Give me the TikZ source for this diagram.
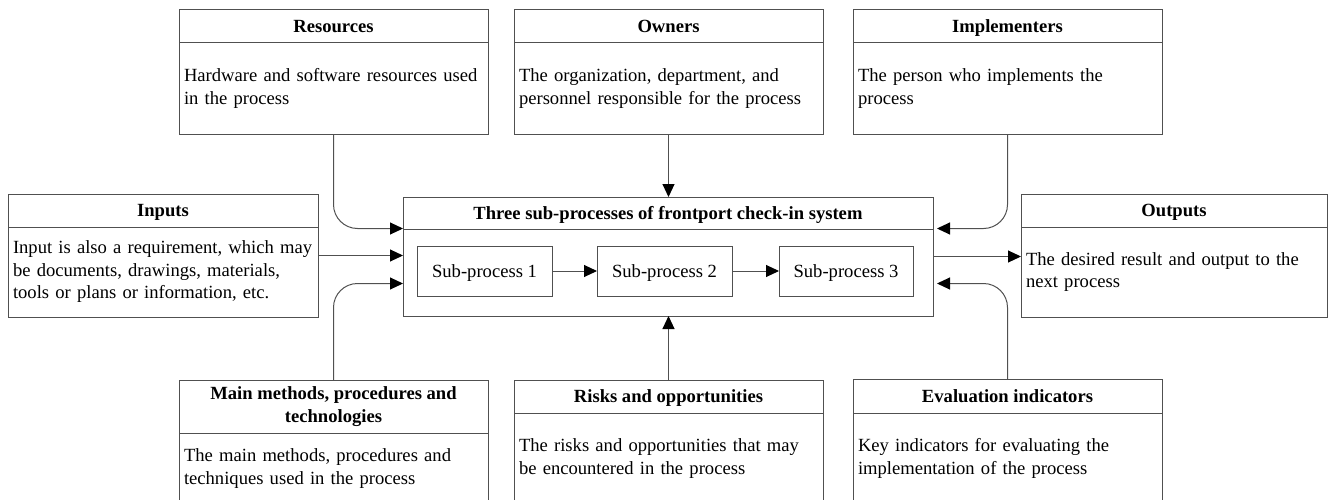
\documentclass[tikz,border=0pt]{standalone}
\usepackage{fontspec}
\setmainfont{Liberation Serif}
\usetikzlibrary{arrows.meta,calc,fit}
\definecolor{linegray}{RGB}{80,80,80}
\begin{document}
\begin{tikzpicture}[x=1pt,y=-1pt,
  txt/.style={font=\fontsize{18.6}{22.5}\selectfont},
  box/.style={txt, draw=linegray, line width=1pt, inner sep=0pt, outer sep=0pt},
  headbox/.style={box, font=\fontsize{18.6}{22.5}\selectfont\bfseries, align=center},
  oneline/.style={text height=12.5pt, text depth=0pt},
  bodybox/.style={box, align=left, inner xsep=5pt, anchor=north},
  wrap/.style={inner sep=0pt, outer sep=0pt},
  arr/.style={draw=linegray, line width=1pt, -{Triangle[length=13pt,width=12pt,color=black]}},
  roundbend/.style={rounded corners=24pt}]
\useasboundingbox (0,0) rectangle (1329,500);

% ---- top row ----
\node[headbox, oneline, minimum width=309pt, minimum height=33pt] (resh) at (333.5,26.5) {Resources};
\node[bodybox, text width=299pt, minimum height=91pt] (resb) at (resh.south)
  {Hardware and software resources used\\in the process};

\node[headbox, oneline, minimum width=309pt, minimum height=33pt] (ownh) at (668.5,26.5) {Owners};
\node[bodybox, text width=299pt, minimum height=91pt] (ownb) at (ownh.south)
  {The organization, department, and\\personnel responsible for the process};

\node[headbox, oneline, minimum width=309pt, minimum height=33pt] (imph) at (1007.5,26.5) {Implementers};
\node[bodybox, text width=299pt, minimum height=91pt] (impb) at (imph.south)
  {The person who implements the\\process};

% ---- middle row ----
\node[headbox, oneline, minimum width=310pt, minimum height=33pt] (inh) at (163,210.5) {Inputs};
\node[bodybox, text width=300pt, minimum height=90pt] (inb) at (inh.south)
  {Input is also a requirement, which may\\be documents, drawings, materials,\\tools or plans or information, etc.};
\node[wrap, fit=(inh)(inb)] (in) {};

\node[headbox, oneline, minimum width=530pt, minimum height=32pt] (cenh) at (668,213)
  {Three sub-processes of frontport check-in system};
\node[box, minimum width=530pt, minimum height=87pt, anchor=north] (cenb) at (cenh.south) {};
\node[wrap, fit=(cenh)(cenb)] (cen) {};

\node[box, oneline, minimum width=135pt, minimum height=50pt] (s1) at (484.5,271) {Sub-process 1};
\node[box, oneline, minimum width=135pt, minimum height=50pt] (s2) at (664.5,271) {Sub-process 2};
\node[box, oneline, minimum width=134pt, minimum height=50pt] (s3) at (846,271) {Sub-process 3};

\node[headbox, oneline, minimum width=306pt, minimum height=33pt] (outh) at (1174,210.5) {Outputs};
\node[bodybox, text width=296pt, minimum height=90pt] (outb) at (outh.south)
  {The desired result and output to the\\next process};
\node[wrap, fit=(outh)(outb)] (out) {};

% ---- bottom row ----
\node[headbox, minimum width=309pt, minimum height=53pt] (meth) at (333.5,406.5)
  {Main methods, procedures and\\technologies};
\node[bodybox, text width=299pt, minimum height=71pt] (metb) at (meth.south)
  {The main methods, procedures and\\techniques used in the process};

\node[headbox, oneline, minimum width=309pt, minimum height=33pt] (riskh) at (668.5,396.5) {Risks and opportunities};
\node[bodybox, text width=299pt, minimum height=91pt] (riskb) at (riskh.south)
  {The risks and opportunities that may\\be encountered in the process};

\node[headbox, oneline, minimum width=309pt, minimum height=34pt] (evah) at (1007.5,396) {Evaluation indicators};
\node[bodybox, text width=299pt, minimum height=91pt] (evab) at (evah.south)
  {Key indicators for evaluating the\\implementation of the process};

% ---- connectors ----
\draw[arr] (s1) -- (s2);
\draw[arr] (s2) -- (s3);

\draw[arr, roundbend] (resb.south) |- ($(cen.west)+(0,-28)$);
\draw[arr] (in.east) -- (in.east -| cen.west);
\draw[arr, roundbend] (meth.north) |- ($(cen.west)+(0,27)$);

\draw[arr] (ownb.south) -- (ownb.south |- cen.north);
\draw[arr] (riskh.north) -- (riskh.north |- cen.south);

\draw[arr, roundbend, shorten >=4pt] (impb.south) |- ($(cen.east)+(0,-28)$);
\draw[arr] (cen.east) -- (cen.east -| out.west);
\draw[arr, roundbend, shorten >=4pt] (evah.north) |- ($(cen.east)+(0,27)$);
\end{tikzpicture}
\end{document}
